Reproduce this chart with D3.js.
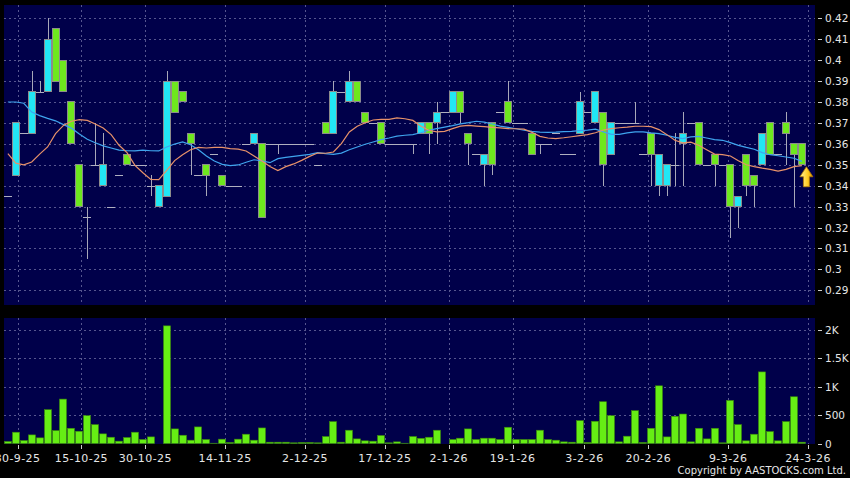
<!DOCTYPE html>
<html lang="en">
<head>
<meta charset="UTF-8">
<title>Daily chart</title>
<script src="https://cdn.jsdelivr.net/npm/d3@7"></script>
<style>
  body { margin: 0; background: #000; }
  text { font-family: "DejaVu Sans", sans-serif; fill: #e6e6e6; }
</style>
</head>
<body>
<div id="chart"></div>
<script>
// daily prices, index 0 = 29-9-25 ... 100 = 24-3-26
var opens = [.335,.345,.365,.365,.385,.385,.415,.40,.38,.35,
  .325,.35,.34,.33,.345,.355,.35,.35,.34,.33,
  .335,.39,.385,.365,.345,.35,.355,.345,.34,.34,
  .36,.36,.36,.36,.36,.36,.36,.36,.36,.35,
  .37,.365,.385,.38,.39,.375,.37,.37,.36,.36,
  .36,.36,.365,.37,.37,.375,.375,.385,.365,.355,
  .35,.37,.375,.38,.37,.37,.365,.36,.36,.365,
  .355,.355,.365,.375,.37,.375,.355,.37,.37,.37,
  .355,.365,.34,.34,.35,.36,.37,.37,.35,.355,
  .35,.35,.33,.355,.345,.35,.37,.355,.37,.36,
  .36];
var highs = [.335,.37,.365,.395,.39,.42,.415,.40,.38,.35,
  .33,.37,.365,.33,.345,.355,.35,.35,.345,.34,
  .395,.39,.385,.365,.345,.35,.355,.345,.34,.34,
  .36,.365,.36,.36,.36,.36,.36,.36,.36,.35,
  .37,.39,.385,.395,.39,.375,.37,.37,.36,.36,
  .36,.36,.37,.37,.38,.375,.385,.385,.365,.355,
  .355,.37,.375,.39,.37,.37,.365,.36,.36,.365,
  .355,.355,.385,.375,.385,.375,.37,.37,.37,.38,
  .355,.365,.355,.35,.365,.375,.37,.37,.35,.355,
  .35,.35,.335,.355,.345,.365,.37,.355,.375,.36,
  .36];
var lows = [.335,.345,.365,.365,.385,.385,.39,.385,.36,.33,
  .305,.35,.34,.33,.345,.35,.35,.35,.335,.33,
  .335,.375,.38,.345,.345,.335,.355,.34,.34,.34,
  .36,.36,.325,.36,.355,.36,.36,.36,.36,.35,
  .365,.365,.385,.38,.38,.37,.37,.36,.36,.36,
  .36,.355,.365,.355,.36,.375,.375,.37,.35,.355,
  .34,.345,.375,.37,.37,.37,.355,.355,.36,.365,
  .355,.355,.365,.375,.37,.34,.355,.37,.37,.37,
  .355,.34,.335,.335,.34,.34,.37,.35,.35,.34,
  .35,.315,.32,.335,.33,.35,.355,.355,.35,.33,
  .35];
var closes = [.335,.37,.365,.385,.385,.41,.39,.385,.36,.33,
  .325,.35,.35,.33,.345,.35,.35,.35,.34,.34,
  .39,.375,.38,.36,.345,.345,.355,.34,.34,.34,
  .36,.365,.325,.36,.36,.36,.36,.36,.36,.35,
  .365,.385,.385,.39,.38,.37,.37,.36,.36,.36,
  .36,.36,.37,.365,.375,.375,.385,.375,.36,.355,
  .355,.35,.375,.37,.37,.37,.355,.36,.36,.365,
  .355,.355,.38,.375,.385,.35,.37,.37,.37,.37,
  .355,.355,.355,.35,.35,.365,.37,.35,.35,.35,
  .35,.33,.335,.34,.34,.365,.355,.355,.365,.355,
  .35];
var volumes = [35,198,52,151,99,593,227,779,267,215,
  488,331,169,110,41,105,198,70,116,0,
  2064,256,145,58,291,70,5,76,17,76,
  163,58,273,23,23,23,12,17,17,12,
  122,384,23,233,81,47,41,140,12,29,
  5,122,90,110,233,0,70,93,256,70,
  93,93,70,285,70,70,70,233,70,58,
  29,23,401,17,390,733,488,29,128,576,
  17,267,1012,116,477,517,29,267,81,267,
  12,756,331,47,163,1256,209,47,384,820,
  23];
// moving averages as drawn (10 day orange, 20 day blue)
var ma10 = [.3553,.3508,.35,.3513,.3551,.3585,.3649,.3688,.3708,.3716,
  .3712,.3695,.3676,.3644,.3593,.3558,.3497,.3462,.343,.3429,
  .3473,.352,.3548,.3572,.3583,.358,.3583,.3583,.3577,.3575,
  .3566,.3542,.3518,.3492,.3472,.3491,.3504,.3521,.354,.3556,
  .3555,.3561,.3601,.3657,.3684,.3701,.3714,.3717,.3717,.3724,
  .372,.3712,.3685,.3665,.3657,.366,.3673,.3685,.3688,.3685,
  .3682,.3679,.3676,.3673,.3672,.367,.3655,.3636,.3628,.3625,
  .3629,.3634,.3639,.3644,.3653,.3666,.3673,.3677,.368,.3684,
  .3684,.3682,.3668,.3644,.3617,.3605,.3608,.3593,.3572,.3551,
  .3548,.3542,.3519,.35,.3491,.3484,.3478,.347,.3478,.3491,
  .3496];
var ma20 = [.380,.380,.3794,.3752,.3735,.3722,.371,.3692,.3675,.3647,
  .3622,.3605,.359,.358,.357,.3567,.3566,.357,.3567,.3566,
  .3585,.3599,.3609,.3596,.3572,.3542,.3518,.3502,.3496,.3499,
  .3512,.3524,.3519,.351,.3529,.3535,.354,.3545,.355,.3558,
  .3553,.355,.3556,.3572,.3585,.3598,.3609,.362,.3628,.3637,
  .3641,.3644,.3653,.3665,.3673,.368,.3687,.3695,.3701,.3708,
  .3704,.3695,.3685,.3679,.3672,.3665,.366,.3656,.3655,.3656,
  .3658,.366,.3663,.3666,.367,.3657,.3645,.3645,.3652,.3657,
  .3657,.3652,.3649,.3641,.3631,.3625,.3633,.3636,.3628,.362,
  .3617,.3606,.3593,.3583,.3574,.3558,.3548,.3543,.3537,.3531,
  .3516];

var tickIdx = [1, 9, 17, 27, 37, 47, 55, 63, 72, 80, 90, 100];
var tickLabels = ["30-9-25","15-10-25","30-10-25","14-11-25","2-12-25","17-12-25",
  "2-1-26","19-1-26","3-2-26","20-2-26","9-3-26","24-3-26"];
var priceTicks = [0.42,0.41,0.4,0.39,0.38,0.37,0.36,0.35,0.34,0.33,0.32,0.31,0.3,0.29];
var volTicks = [0, 500, 1000, 1500, 2000];
var volTickLabels = ["0", "500", "1K", "1.5K", "2K"];

var W = 850, H = 478;
var main = {left: 4, right: 815, top: 5, bottom: 305};
var vol = {left: 4, right: 815, top: 318, bottom: 444};

var upColor = "#22e6f4", downColor = "#6ee81e", volColor = "#66ee14";
var gridColor = "#56568f";

var svg = d3.select("#chart").append("svg")
    .attr("width", W).attr("height", H)
    .style("display", "block");

svg.append("rect").attr("width", W).attr("height", H).attr("fill", "#000");

var x = d3.scaleLinear().domain([0, 100]).range([7.9, 801.9]);
var xTick = d3.scaleLinear().domain([1, 100]).range([17.5, 808]);
var y = d3.scaleLinear().domain([0.29, 0.42]).range([290.3, 18.3]);
var yv = d3.scaleLinear().domain([0, 2000]).range([443.5, 329.5]);

function px(v) { return Math.round(v) + 0.5; }

// panels
[main, vol].forEach(function(p) {
  svg.append("rect")
    .attr("x", p.left).attr("y", p.top)
    .attr("width", p.right - p.left).attr("height", p.bottom - p.top)
    .attr("fill", "#00004a");
});

// grid
var grid = svg.append("g")
    .attr("stroke", gridColor).attr("stroke-dasharray", "2,3")
    .attr("shape-rendering", "crispEdges");

grid.selectAll(".hm").data(priceTicks).enter().append("line")
    .attr("x1", main.left).attr("x2", main.right)
    .attr("y1", function(d) { return px(y(d)); })
    .attr("y2", function(d) { return px(y(d)); });

grid.selectAll(".hv").data(volTicks.slice(1)).enter().append("line")
    .attr("x1", vol.left).attr("x2", vol.right)
    .attr("y1", function(d) { return px(yv(d)); })
    .attr("y2", function(d) { return px(yv(d)); });

grid.selectAll(".vm").data(tickIdx).enter().append("line")
    .attr("x1", function(d) { return px(xTick(d)); })
    .attr("x2", function(d) { return px(xTick(d)); })
    .attr("y1", main.top).attr("y2", main.bottom);

grid.selectAll(".vv").data(tickIdx).enter().append("line")
    .attr("x1", function(d) { return px(xTick(d)); })
    .attr("x2", function(d) { return px(xTick(d)); })
    .attr("y1", vol.top).attr("y2", vol.bottom);

// candles
var bars = d3.range(closes.length);
var cg = svg.append("g").attr("shape-rendering", "crispEdges");

cg.selectAll(".wick").data(bars.filter(function(i) { return highs[i] > lows[i]; }))
  .enter().append("line")
    .attr("x1", function(i) { return px(x(i)); })
    .attr("x2", function(i) { return px(x(i)); })
    .attr("y1", function(i) { return y(highs[i]); })
    .attr("y2", function(i) { return y(lows[i]); })
    .attr("stroke", "#a8a8b8");

cg.selectAll(".doji").data(bars.filter(function(i) { return opens[i] == closes[i]; }))
  .enter().append("line")
    .attr("x1", function(i) { return Math.round(x(i)) - 4; })
    .attr("x2", function(i) { return Math.round(x(i)) + 4; })
    .attr("y1", function(i) { return px(y(closes[i])); })
    .attr("y2", function(i) { return px(y(closes[i])); })
    .attr("stroke", "#b0b0c0");

cg.selectAll(".body").data(bars.filter(function(i) { return opens[i] != closes[i]; }))
  .enter().append("rect")
    .attr("x", function(i) { return Math.round(x(i)) - 3.5; })
    .attr("y", function(i) { return y(Math.max(opens[i], closes[i])); })
    .attr("width", 7)
    .attr("height", function(i) { return Math.abs(y(opens[i]) - y(closes[i])); })
    .attr("fill", function(i) { return closes[i] > opens[i] ? upColor : downColor; })
    .attr("stroke", "#8c8c8c");

// moving averages
var line = function(arr) {
  return d3.line()
    .x(function(d, i) { return x(i); })
    .y(function(d) { return y(d); })(arr);
};
svg.append("path").attr("d", line(ma20))
  .attr("fill", "none").attr("stroke", "#3fa4ee").attr("stroke-width", 1.2);
svg.append("path").attr("d", line(ma10))
  .attr("fill", "none").attr("stroke", "#e8926a").attr("stroke-width", 1.2);

// last price arrow
var defs = svg.append("defs");
var grad = defs.append("linearGradient").attr("id", "arr")
    .attr("x1", 0).attr("x2", 1).attr("y1", 0).attr("y2", 0);
grad.append("stop").attr("offset", "0%").attr("stop-color", "#fff2a0");
grad.append("stop").attr("offset", "60%").attr("stop-color", "#ffcc22");
grad.append("stop").attr("offset", "100%").attr("stop-color", "#d89000");

var last = closes.length - 1;
var ax = x(last) + 4.5, ay = y(closes[last]) + 2;
svg.append("path")
    .attr("d", "M" + ax + "," + ay + " l6.5,10 h-3.5 v10 h-6 v-10 h-3.5 z")
    .attr("fill", "url(#arr)").attr("stroke", "#b07800").attr("stroke-width", 0.8);

// volume bars
svg.append("g").selectAll("rect").data(bars.filter(function(i) { return volumes[i] > 0; }))
  .enter().append("rect")
    .attr("x", function(i) { return Math.round(x(i)) - 3.5; })
    .attr("y", function(i) { return yv(volumes[i]); })
    .attr("width", 7)
    .attr("height", function(i) { return yv(0) - yv(volumes[i]); })
    .attr("fill", volColor)
    .attr("stroke", "#3c8a0a").attr("stroke-width", 0.6);

// right axes
var ra = svg.append("g");
ra.selectAll(".pt").data(priceTicks).enter().append("line")
    .attr("x1", 818).attr("x2", 822)
    .attr("y1", function(d) { return px(y(d)); })
    .attr("y2", function(d) { return px(y(d)); })
    .attr("stroke", "#ccc");
ra.selectAll(".pl").data(priceTicks).enter().append("text")
    .attr("x", 825)
    .attr("y", function(d) { return y(d) + 4; })
    .attr("font-size", "10.5px")
    .text(function(d) { return String(d); });

ra.selectAll(".vt").data(volTicks).enter().append("line")
    .attr("x1", 818).attr("x2", 822)
    .attr("y1", function(d) { return px(yv(d)); })
    .attr("y2", function(d) { return px(yv(d)); })
    .attr("stroke", "#ccc");
ra.selectAll(".vl").data(volTicks).enter().append("text")
    .attr("x", 825)
    .attr("y", function(d) { return yv(d) + 4; })
    .attr("font-size", "10.5px")
    .text(function(d, i) { return volTickLabels[i]; });

// date axis
var xa = svg.append("g");
xa.selectAll("line").data(tickIdx).enter().append("line")
    .attr("x1", function(d) { return px(xTick(d)); })
    .attr("x2", function(d) { return px(xTick(d)); })
    .attr("y1", 445).attr("y2", 449)
    .attr("stroke", "#ccc");
xa.selectAll("text").data(tickIdx).enter().append("text")
    .attr("x", function(d) { return xTick(d); })
    .attr("y", 462)
    .attr("text-anchor", "middle")
    .attr("font-size", "11px")
    .attr("letter-spacing", "0.4px")
    .text(function(d, i) { return tickLabels[i]; });

svg.append("text")
    .attr("x", 846).attr("y", 474)
    .attr("text-anchor", "end")
    .attr("font-size", "10px")
    .text("Copyright by AASTOCKS.com Ltd.");
</script>
</body>
</html>
